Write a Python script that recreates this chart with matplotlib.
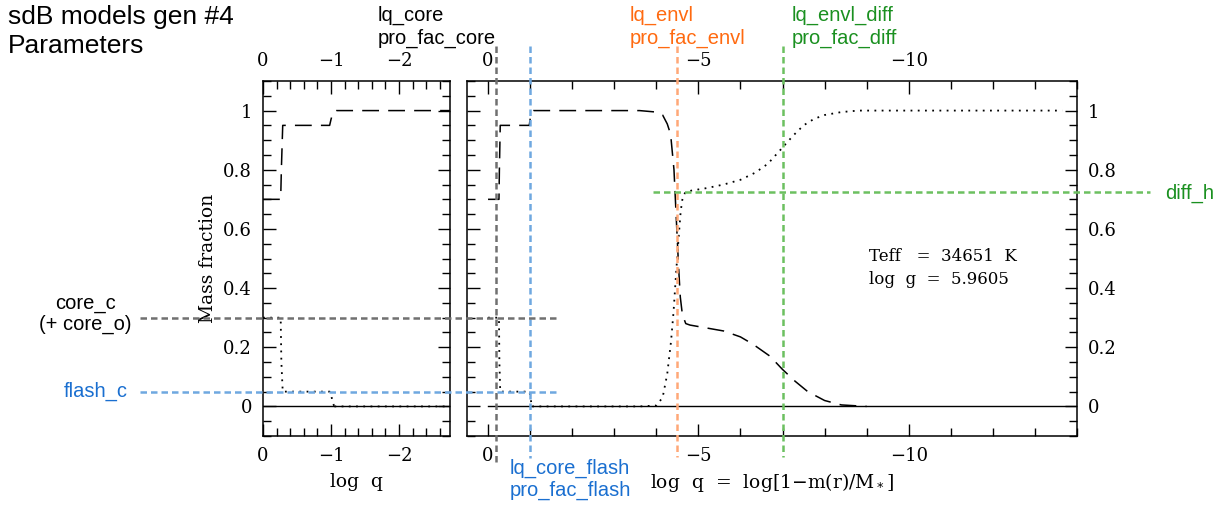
import matplotlib
matplotlib.use('Agg')
import matplotlib.pyplot as plt
import matplotlib.transforms as mtransforms
from matplotlib.ticker import MultipleLocator, FuncFormatter

# chemical profile (log q, mass fraction)
he_logq = [0.0, -0.26, -0.27, -0.29, -0.98, -1.0, -1.03, -1.08, -3.6, -4.0, -4.15,
           -4.26, -4.34, -4.42, -4.47, -4.53, -4.57, -4.62, -4.7, -4.8, -5.2, -5.6,
           -6.0, -6.3, -6.7, -7.0, -7.3, -7.6, -8.0, -8.4, -9.0]
he_frac = [0.70, 0.70, 0.80, 0.95, 0.95, 0.97, 0.995, 1.0, 1.0, 0.995, 0.985,
           0.955, 0.92, 0.80, 0.65, 0.47, 0.37, 0.31, 0.28, 0.275, 0.265, 0.255,
           0.235, 0.21, 0.17, 0.125, 0.085, 0.05, 0.02, 0.005, 0.0]
h_logq = [-1.05, -3.6, -4.0, -4.15, -4.26, -4.35, -4.41, -4.47, -4.53, -4.58, -4.63,
          -4.7, -4.85, -5.2, -5.6, -6.0, -6.35, -6.65, -7.0, -7.25, -7.5, -7.75,
          -8.0, -8.4, -8.8, -13.65]
h_frac = [0.0, 0.0, 0.003, 0.03, 0.11, 0.22, 0.32, 0.45, 0.57, 0.66, 0.71,
          0.725, 0.73, 0.738, 0.75, 0.766, 0.79, 0.82, 0.875, 0.915, 0.95, 0.972,
          0.985, 0.995, 1.0, 1.0]
c_logq = [0.0, -0.26, -0.27, -0.29, -0.98, -1.0, -1.03, -1.05]
c_frac = [0.30, 0.30, 0.15, 0.05, 0.05, 0.04, 0.01, 0.0]
o_logq = [0.0, -14.0]
o_frac = [0.0, 0.0]

# parameters marked on the figure
lq_core = -0.2
lq_core_flash = -1.0
lq_envl = -4.5
lq_envl_diff = -7.0
core_c = 0.3
flash_c = 0.05
diff_h = 0.725
teff = 34651
logg = 5.9605

W, H = 1221, 507
fig = plt.figure(figsize=(W / 100, H / 100), dpi=100)
plt.rcParams['font.family'] = 'DejaVu Serif'

ax1 = fig.add_axes([263 / W, 1 - 436 / H, 187 / W, 355 / H])
ax2 = fig.add_axes([467 / W, 1 - 436 / H, 610 / W, 355 / H])

yfmt = FuncFormatter(lambda v, p: '%g' % round(v, 2))

def style(ax):
    ax.plot(o_logq, o_frac, color='k', lw=1.0, ls='-')
    ax.plot(he_logq, he_frac, color='k', lw=1.1, ls=(0, (11, 6)))
    ax.plot(h_logq, h_frac, color='k', lw=1.3, ls=(0, (1, 3)))
    ax.plot(c_logq, c_frac, color='k', lw=1.3, ls=(0, (1, 3)))
    ax.set_ylim(-0.1, 1.1)
    ax.yaxis.set_major_locator(MultipleLocator(0.2))
    ax.yaxis.set_minor_locator(MultipleLocator(0.05))
    ax.yaxis.set_major_formatter(yfmt)
    ax.tick_params(which='both', direction='in', top=True, right=True,
                   labeltop=True, width=1.0, labelsize=13, pad=8)
    ax.tick_params(which='major', length=9)
    ax.tick_params(which='minor', length=5.5)
    for s in ax.spines.values():
        s.set_linewidth(1.1)

style(ax1)
ax1.set_xlim(0, -2.75)
ax1.xaxis.set_major_locator(MultipleLocator(1))
ax1.xaxis.set_minor_locator(MultipleLocator(0.2))
ax1.set_xlabel('log  q', fontsize=13.5, labelpad=6)
ax1.set_ylabel('Mass fraction', fontsize=13.5, labelpad=4)

style(ax2)
ax2.set_xlim(0.5, -14)
ax2.xaxis.set_major_locator(MultipleLocator(5))
ax2.xaxis.set_minor_locator(MultipleLocator(1))
ax2.tick_params(labelleft=False, labelright=True)
ax2.set_xlabel(r'log  q  =  log[1$-$m(r)/M$_*$]', fontsize=13.5, labelpad=4)
ax2.text(-9.05, 0.49, 'Teff   =  %d  K' % teff, fontsize=12, va='baseline', ha='left')
ax2.text(-9.05, 0.414, 'log  g  =  %.4f' % logg, fontsize=12, va='baseline', ha='left')

# overlaid parameter markers
gray, blue, orange, green = '#707070', '#6fa8e0', '#ffa878', '#6cc060'
blue_t, orange_t, green_t = '#1a6fd0', '#ff6a10', '#1a9020'
dash = (0, (2.6, 1.6))

vtrans = mtransforms.blended_transform_factory(ax2.transData, fig.transFigure)
for xv, c, yb in [(lq_core, gray, 466), (lq_core_flash, blue, 458),
                  (lq_envl, orange, 457), (lq_envl_diff, green, 457)]:
    fig.add_artist(plt.Line2D([xv, xv], [1 - 46 / H, 1 - yb / H], transform=vtrans,
                              color=c, lw=1.8, ls=dash))

htrans = mtransforms.blended_transform_factory(fig.transFigure, ax1.transData)
for yv, x0, x1, c in [(core_c, 140, 558, gray), (flash_c, 140, 558, blue), (diff_h, 653, 1150, green)]:
    fig.add_artist(plt.Line2D([x0 / W, x1 / W], [yv, yv], transform=htrans,
                              color=c, lw=1.8, ls=dash))

sans = 'Liberation Sans'
fig.text(8 / W, 1 - 5 / H, 'sdB models gen #4\nParameters', fontsize=19, family=sans,
         va='top', ha='left', linespacing=1.25)
fig.text(378 / W, 1 - 6 / H, 'lq_core\npro_fac_core', fontsize=14.5, family=sans,
         va='top', ha='left', linespacing=1.2)
fig.text(630 / W, 1 - 6 / H, 'lq_envl\npro_fac_envl', fontsize=14.5, family=sans,
         color=orange_t, va='top', ha='left', linespacing=1.2)
fig.text(792 / W, 1 - 6 / H, 'lq_envl_diff\npro_fac_diff', fontsize=14.5, family=sans,
         color=green_t, va='top', ha='left', linespacing=1.2)
fig.text(510 / W, 1 - 459 / H, 'lq_core_flash\npro_fac_flash', fontsize=14.5, family=sans,
         color=blue_t, va='top', ha='left', linespacing=1.15)
fig.text(85 / W, 1 - 314 / H, 'core_c\n(+ core_o)', fontsize=14.5, family=sans,
         va='center', ha='center', linespacing=1.15)
fig.text(128 / W, 1 - 391 / H, 'flash_c', fontsize=14.5, family=sans,
         color=blue_t, va='center', ha='right')
fig.text(1165 / W, 1 - 193 / H, 'diff_h', fontsize=14.5, family=sans,
         color=green_t, va='center', ha='left')

fig.savefig('out.png', dpi=100)
